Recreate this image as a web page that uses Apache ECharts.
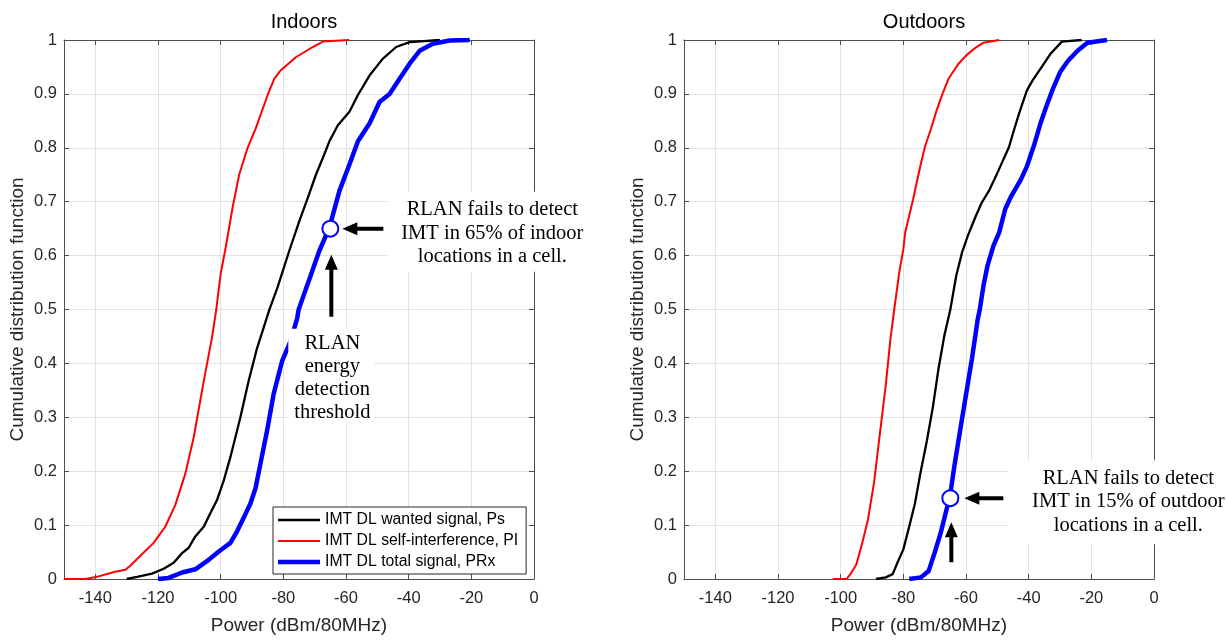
<!DOCTYPE html>
<html><head><meta charset="utf-8">
<script src="https://cdn.jsdelivr.net/npm/echarts@6/dist/echarts.min.js"></script>
<style>html,body{margin:0;padding:0;background:#fff}#c{width:1226px;height:640px}</style>
</head><body><div id="c"></div>
<script>
// ---------- data ----------
const panelTitles = ['Indoors', 'Outdoors'];
const seriesNames = ['IMT DL wanted signal, Ps', 'IMT DL self-interference, PI', 'IMT DL total signal, PRx'];
const xTicks = [-140, -120, -100, -80, -60, -40, -20, 0];
const yTicks = [0, 0.1, 0.2, 0.3, 0.4, 0.5, 0.6, 0.7, 0.8, 0.9, 1];
const xLabel = 'Power (dBm/80MHz)';
const yLabel = 'Cumulative distribution function';

const indoorWanted = [[-130,0],[-126.7,0.004],[-121.9,0.010],[-118.2,0.019],[-115,0.030],[-112.3,0.048],[-110.2,0.058],[-108.1,0.079],[-105.4,0.097],[-103.3,0.122],[-101.2,0.146],[-99,0.183],[-96.9,0.226],[-93.7,0.30],[-91.1,0.367],[-88.4,0.428],[-85.7,0.477],[-84.5,0.499],[-81.8,0.542],[-78.1,0.609],[-74.9,0.664],[-72.2,0.707],[-69.6,0.75],[-67.4,0.781],[-65.3,0.812],[-62.6,0.842],[-58.9,0.867],[-56.2,0.898],[-52.5,0.934],[-48.3,0.965],[-44,0.987],[-39.7,0.996],[-30,1]];
const indoorSelf = [[-150,0],[-143,0],[-139.5,0.004],[-134,0.013],[-130.4,0.017],[-128.8,0.025],[-125.6,0.043],[-121.4,0.067],[-117.7,0.097],[-114.5,0.137],[-111.3,0.195],[-108.6,0.263],[-105.4,0.367],[-102.8,0.447],[-101.4,0.5],[-100,0.566],[-98.4,0.615],[-96.2,0.689],[-94.1,0.75],[-91.4,0.80],[-88.8,0.836],[-85,0.898],[-82.9,0.928],[-80.8,0.944],[-76,0.968],[-70.6,0.987],[-67.4,0.997],[-59,1]];
const indoorTotal = [[-120,0],[-116.6,0.002],[-112.3,0.012],[-108.1,0.018],[-104.4,0.033],[-100.6,0.051],[-96.9,0.067],[-94.8,0.088],[-92.7,0.113],[-90.5,0.140],[-88.9,0.168],[-87.3,0.214],[-85.2,0.275],[-83.1,0.343],[-80.4,0.404],[-77.8,0.44],[-75.6,0.483],[-75.1,0.5],[-72.2,0.548],[-68.5,0.609],[-65.3,0.652],[-62.1,0.72],[-58.9,0.769],[-56.2,0.812],[-52.5,0.845],[-49.3,0.885],[-46.1,0.9],[-42.9,0.928],[-39.7,0.956],[-36.5,0.980],[-32.3,0.993],[-26.9,0.999],[-20.5,1]];

const outdoorWanted = [[-88.75,0],[-85.6,0.003],[-83.4,0.009],[-81.9,0.030],[-80,0.055],[-78.1,0.098],[-76.3,0.14],[-74.4,0.201],[-72.5,0.256],[-70.6,0.318],[-68.75,0.391],[-66.9,0.452],[-65,0.5],[-63.1,0.563],[-61.25,0.606],[-59.4,0.637],[-56.9,0.673],[-55,0.698],[-52.5,0.722],[-50,0.753],[-48.1,0.778],[-46.25,0.802],[-45,0.827],[-43.1,0.863],[-40.6,0.906],[-38.75,0.925],[-35.6,0.952],[-33.1,0.974],[-29.4,0.997],[-23.1,1]];
const outdoorSelf = [[-102.5,0],[-98.1,0],[-96.9,0.009],[-95,0.027],[-93.1,0.067],[-91.3,0.11],[-89.4,0.177],[-87.5,0.269],[-85.6,0.36],[-84.1,0.446],[-82.9,0.5],[-81.3,0.569],[-80,0.612],[-79.4,0.643],[-76.9,0.704],[-74.4,0.771],[-73.1,0.802],[-71.3,0.833],[-69.4,0.869],[-67.5,0.9],[-65.6,0.928],[-62.5,0.955],[-60,0.971],[-56.9,0.986],[-54.4,0.995],[-49.4,1]];
const outdoorTotal = [[-78.1,0],[-74.4,0.003],[-71.9,0.015],[-70,0.049],[-68.1,0.085],[-66.25,0.128],[-65.2,0.15],[-63.75,0.208],[-61.9,0.275],[-60,0.342],[-58.1,0.409],[-56.25,0.482],[-55.6,0.5],[-54.4,0.545],[-53.1,0.582],[-51.25,0.618],[-49.4,0.643],[-47.5,0.686],[-45.6,0.71],[-42.5,0.741],[-40.6,0.765],[-38.1,0.808],[-36.25,0.845],[-34.4,0.876],[-32.5,0.906],[-30,0.94],[-27.5,0.961],[-24.4,0.98],[-21.25,0.995],[-15,1]];

const thresholdDbm = -65;
const failShares = [0.65, 0.15];
const noteTexts = [
  ['RLAN fails to detect', 'IMT in 65% of indoor', 'locations in a cell.'],
  ['RLAN fails to detect', 'IMT in 15% of outdoor', 'locations in a cell.']
];
const thresholdText = ['RLAN', 'energy', 'detection', 'threshold'];

// ---------- styling ----------
const SANS = '"Liberation Sans", Arial, Helvetica, sans-serif';
const SERIF = '"Liberation Serif", "Times New Roman", serif';
const axisColor = '#4d4d4d';
const labelColor = '#262626';
const gridColor = '#e2e2e2';
const lineColors = ['#000000', '#ff0000', '#0000ff'];
const lineWidths = [2.3, 2, 4.5];
const panelData = [[indoorWanted, indoorSelf, indoorTotal], [outdoorWanted, outdoorSelf, outdoorTotal]];
const gridLefts = [64, 684];

const grids = [], xAxes = [], yAxes = [], titles = [], series = [];
for (let p = 0; p < 2; p++) {
  grids.push({left: gridLefts[p], top: 40, width: 470, height: 543, show: false});
  titles.push({text: panelTitles[p], left: gridLefts[p] + 235, top: 7, textAlign: 'center',
    textStyle: {fontSize: 20, fontWeight: 'normal', color: '#000', fontFamily: SANS}});
  const tickStyle = {color: axisColor, width: 1};
  xAxes.push({type: 'value', gridIndex: p, min: -150, max: 0, position: 'bottom',
    axisLine: {show: true, onZero: false, lineStyle: tickStyle},
    axisTick: {show: true, inside: true, length: 5, customValues: xTicks, lineStyle: tickStyle},
    axisLabel: {customValues: xTicks, margin: 11, fontSize: 16.5, color: labelColor, fontFamily: SANS},
    splitLine: {show: true, lineStyle: {color: gridColor, width: 1}},
    name: xLabel, nameLocation: 'middle', nameGap: 37,
    nameTextStyle: {fontSize: 19, color: labelColor, fontFamily: SANS}});
  xAxes.push({type: 'value', gridIndex: p, min: -150, max: 0, position: 'top',
    axisLine: {show: true, onZero: false, lineStyle: tickStyle},
    axisTick: {show: true, inside: true, length: 5, customValues: xTicks, lineStyle: tickStyle},
    axisLabel: {show: false}, splitLine: {show: false}});
  yAxes.push({type: 'value', gridIndex: p, min: 0, max: 1, interval: 0.1, position: 'left',
    axisLine: {show: true, onZero: false, lineStyle: tickStyle},
    axisTick: {show: true, inside: true, length: 5, lineStyle: tickStyle},
    axisLabel: {margin: 7, fontSize: 16.5, color: labelColor, fontFamily: SANS},
    splitLine: {show: true, lineStyle: {color: gridColor, width: 1}},
    name: yLabel, nameLocation: 'middle', nameGap: 37, nameRotate: 90,
    nameTextStyle: {fontSize: 19, color: labelColor, fontFamily: SANS}});
  yAxes.push({type: 'value', gridIndex: p, min: 0, max: 1, interval: 0.1, position: 'right',
    axisLine: {show: true, onZero: false, lineStyle: tickStyle},
    axisTick: {show: true, inside: true, length: 5, lineStyle: tickStyle},
    axisLabel: {show: false}, splitLine: {show: false}});
  for (let s = 0; s < 3; s++) {
    series.push({type: 'line', name: seriesNames[s], xAxisIndex: p * 2, yAxisIndex: p * 2,
      data: panelData[p][s], symbol: 'none', showSymbol: false,
      lineStyle: {color: lineColors[s], width: lineWidths[s]}, itemStyle: {color: lineColors[s]},
      z: 2 + s, silent: true});
  }
  series.push({type: 'scatter', name: 'marker' + p, xAxisIndex: p * 2, yAxisIndex: p * 2,
    data: [[thresholdDbm, failShares[p]]], symbol: 'circle', symbolSize: 16,
    itemStyle: {color: '#ffffff', borderColor: '#0000ff', borderWidth: 2, opacity: 1}, z: 10, silent: true});
}

const legendThickness = [2.5, 2, 4.5];
const option = {
  animation: false,
  backgroundColor: '#ffffff',
  title: titles,
  grid: grids,
  xAxis: xAxes,
  yAxis: yAxes,
  legend: {
    orient: 'vertical', left: 273, top: 507,
    itemWidth: 42, itemHeight: 14, itemGap: 5,
    symbolKeepAspect: true,
    padding: [5, 8, 4, 5],
    backgroundColor: '#ffffff', borderColor: '#262626', borderWidth: 1, borderRadius: 0,
    textStyle: {fontSize: 15.8, color: '#000', fontFamily: SANS},
    data: seriesNames.map((n, i) => ({name: n,
      icon: 'path://M0,0L42,0L42,' + legendThickness[i] + 'L0,' + legendThickness[i] + 'Z',
      itemStyle: {color: lineColors[i], borderWidth: 0}})),
    selectedMode: false
  },
  series: series
};

const chart = echarts.init(document.getElementById('c'), null, {renderer: 'canvas'});
chart.setOption(option);

// ---------- annotations anchored to data coordinates ----------
function arrow(tip, tail) {
  const dx = tail[0] - tip[0], dy = tail[1] - tip[1];
  const len = Math.sqrt(dx * dx + dy * dy);
  const ux = dx / len, uy = dy / len, nx = -uy, ny = ux;
  const hl = 15, hw = 6.5, sw = 2;
  const bx = tip[0] + ux * hl, by = tip[1] + uy * hl;
  const pts = [
    [tip[0], tip[1]],
    [bx + nx * hw, by + ny * hw],
    [bx + nx * sw, by + ny * sw],
    [tail[0] + nx * sw, tail[1] + ny * sw],
    [tail[0] - nx * sw, tail[1] - ny * sw],
    [bx - nx * sw, by - ny * sw],
    [bx - nx * hw, by - ny * hw]
  ];
  return {type: 'polygon', z: 120, shape: {points: pts}, style: {fill: '#000'}, silent: true};
}
function textLines(lines, cx, y0, step) {
  return lines.map((t, i) => ({type: 'text', z: 130, x: cx, y: y0 + i * step, silent: true,
    style: {text: t, font: '20.5px ' + SERIF, fill: '#000', align: 'center', verticalAlign: 'middle',
      textAlign: 'center', textVerticalAlign: 'middle'}}));
}

const m0 = chart.convertToPixel({xAxisIndex: 0, yAxisIndex: 0}, [thresholdDbm, failShares[0]]);
const m1 = chart.convertToPixel({xAxisIndex: 2, yAxisIndex: 2}, [thresholdDbm, failShares[1]]);
const g = [];
// left panel
g.push({type: 'rect', z: 110, silent: true, shape: {x: m0[0] + 57, y: m0[1] - 37, width: 203, height: 80}, style: {fill: '#fff'}});
g.push(...textLines(noteTexts[0], m0[0] + 162, m0[1] - 19, 23.5));
g.push(arrow([m0[0] + 12, m0[1]], [m0[0] + 53, m0[1]]));
g.push(arrow([m0[0] + 1, m0[1] + 26], [m0[0] + 1, m0[1] + 88]));
g.push({type: 'rect', z: 110, silent: true, shape: {x: m0[0] - 42, y: m0[1] + 100, width: 86, height: 96}, style: {fill: '#fff'}});
g.push(...textLines(thresholdText, m0[0] + 2, m0[1] + 115, 23));
// right panel
g.push({type: 'rect', z: 110, silent: true, shape: {x: m1[0] + 58, y: m1[1] - 38, width: 230, height: 84}, style: {fill: '#fff'}});
g.push(...textLines(noteTexts[1], m1[0] + 178, m1[1] - 20, 23.5));
g.push(arrow([m1[0] + 14, m1[1]], [m1[0] + 53, m1[1]]));
g.push(arrow([m1[0] + 1, m1[1] + 24], [m1[0] + 1, m1[1] + 64]));
chart.setOption({graphic: {elements: g}});
</script>
</body></html>
